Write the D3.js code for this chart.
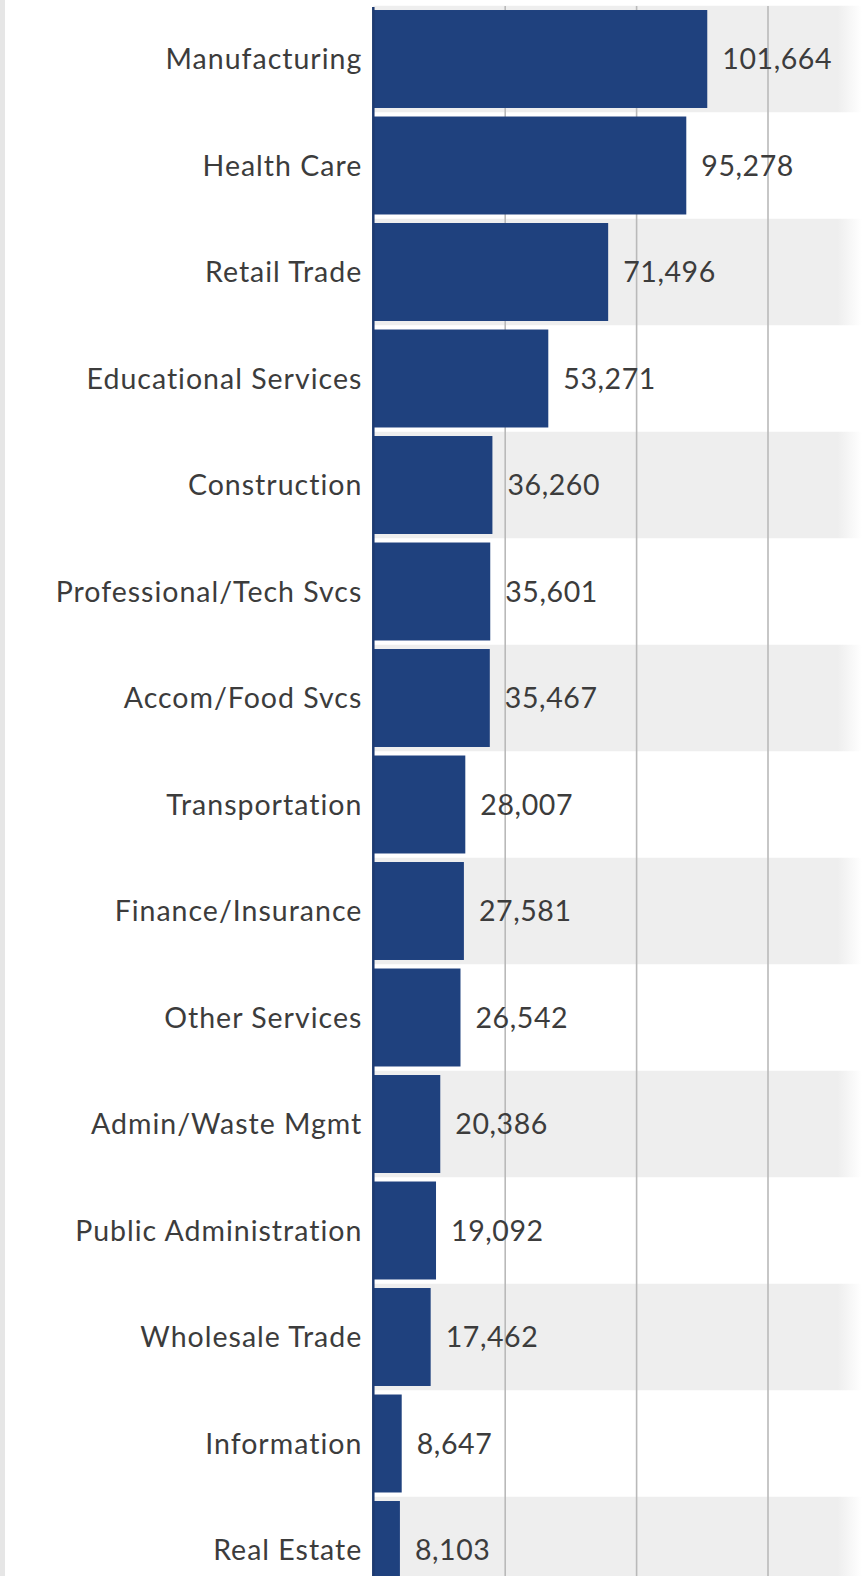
<!DOCTYPE html>
<html>
<head>
<meta charset="utf-8">
<script src="https://cdn.jsdelivr.net/npm/d3@7"></script>
<style>
  html, body { margin: 0; padding: 0; background: #ffffff; }
  svg { display: block; }
</style>
</head>
<body>
<svg id="chart" width="866" height="1576"></svg>
<script>
// Employment by industry sector
const categories = [
  "Manufacturing", "Health Care", "Retail Trade", "Educational Services",
  "Construction", "Professional/Tech Svcs", "Accom/Food Svcs", "Transportation",
  "Finance/Insurance", "Other Services", "Admin/Waste Mgmt", "Public Administration",
  "Wholesale Trade", "Information", "Real Estate"
];
const values = [
  101664, 95278, 71496, 53271, 36260, 35601, 35467, 28007,
  27581, 26542, 20386, 19092, 17462, 8647, 8103
];
const gridTicks = [40000, 80000, 120000];

const W = 866, H = 1576;
const axisX = 373.3;
const bandRight = 852;
const fontFamily = "Lato, 'Open Sans', sans-serif";
const fontSize = 28.5;

const svg = d3.select("#chart");

const x = d3.scaleLinear().domain([0, 120000]).range([axisX, 767.5]);
const y = d3.scaleBand()
  .domain(categories)
  .range([5.75, 1603.25])
  .paddingInner(0.08)
  .paddingOuter(0.04);

const step = y.step();
const rows = categories.map((c, i) => ({ name: c, value: values[i], i }));

// soft fade at the right end of the striped rows
const defs = svg.append("defs");
const grad = defs.append("linearGradient").attr("id", "rowFade")
  .attr("gradientUnits", "userSpaceOnUse")
  .attr("x1", axisX).attr("x2", bandRight + 10).attr("y1", 0).attr("y2", 0);
grad.append("stop").attr("offset", "0%").attr("stop-color", "#eeeeee");
grad.append("stop").attr("offset", "95%").attr("stop-color", "#eeeeee");
grad.append("stop").attr("offset", "100%").attr("stop-color", "#eeeeee").attr("stop-opacity", 0);

// thin grey edge on the left
svg.append("rect").attr("x", 0).attr("y", 0).attr("width", 5).attr("height", H).attr("fill", "#e6e6e6");

// alternating row stripes
svg.append("g").selectAll("rect")
  .data(rows.filter(d => d.i % 2 === 0))
  .join("rect")
  .attr("x", axisX)
  .attr("y", d => y(d.name) - step * 0.04)
  .attr("width", bandRight + 10 - axisX)
  .attr("height", step)
  .attr("fill", "url(#rowFade)");

// vertical gridlines
const grid = svg.append("g")
  .attr("transform", `translate(0,${H})`)
  .call(d3.axisBottom(x).tickValues(gridTicks).tickSize(H - 6).tickFormat(""));
grid.select(".domain").remove();
grid.selectAll(".tick line")
  .attr("transform", `scale(1,-1)`)
  .attr("stroke", "#b9b9b9")
  .attr("stroke-width", 1.6);

// bars
svg.append("g").selectAll("rect")
  .data(rows)
  .join("rect")
  .attr("x", x(0))
  .attr("y", d => y(d.name))
  .attr("width", d => x(d.value) - x(0))
  .attr("height", y.bandwidth())
  .attr("fill", "#1f417e");

// zero baseline
svg.append("line")
  .attr("x1", axisX).attr("x2", axisX)
  .attr("y1", 7).attr("y2", H)
  .attr("stroke", "#1d3a70")
  .attr("stroke-width", 2.5);

// category labels
svg.append("g").selectAll("text")
  .data(rows)
  .join("text")
  .attr("x", axisX - 11)
  .attr("y", d => y(d.name) + y.bandwidth() / 2)
  .attr("dy", "0.36em")
  .attr("text-anchor", "end")
  .attr("font-family", fontFamily)
  .attr("font-size", fontSize)
  .attr("letter-spacing", 1.0)
  .attr("fill", "#3c3c3c")
  .text(d => d.name);

// value labels
const fmt = d3.format(",");
svg.append("g").selectAll("text")
  .data(rows)
  .join("text")
  .attr("x", d => x(d.value) + 15)
  .attr("y", d => y(d.name) + y.bandwidth() / 2)
  .attr("dy", "0.36em")
  .attr("font-family", fontFamily)
  .attr("font-size", fontSize)
  .attr("letter-spacing", 0.6)
  .attr("fill", "#3c3c3c")
  .text(d => fmt(d.value));
</script>
</body>
</html>
